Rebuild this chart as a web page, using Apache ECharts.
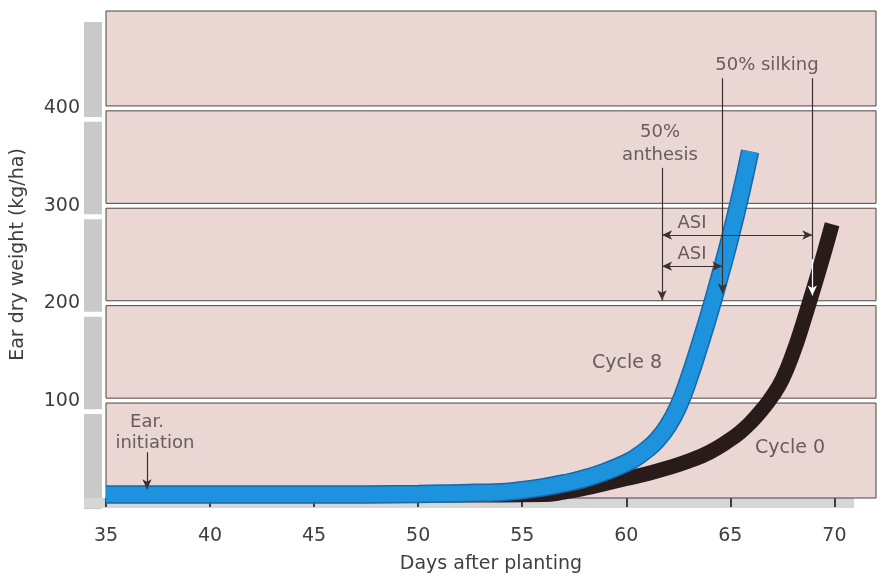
<!DOCTYPE html>
<html><head><meta charset="utf-8">
<script src="https://cdn.jsdelivr.net/npm/echarts@6/dist/echarts.min.js"></script>
<style>html,body{margin:0;padding:0;background:#ffffff}#c{width:885px;height:576px}</style>
</head><body><div id="c"></div>
<script>
// ---- data ----
const xTicks = [35, 40, 45, 50, 55, 60, 65, 70];
const yTicks = [100, 200, 300, 400];
const bandEdges = [0, 100, 200, 300, 400, 500];

const cycle8Days   = [35, 40, 45, 50, 52, 54, 55, 56, 57, 58, 59, 60, 60.5, 61, 61.5, 62, 62.5, 63, 63.5, 64, 64.5, 65, 65.5, 65.95];
const cycle8Weight = [3.5, 3.5, 3.5, 4, 5, 6, 8, 11, 15, 20, 27, 36, 42, 50, 60, 74, 94, 122, 155, 190, 228, 268, 312, 356];

const cycle0Days   = [35, 45, 50, 54, 56, 57, 58, 59, 60, 61, 62, 63, 64, 65, 65.5, 66, 66.5, 67, 67.5, 68, 68.5, 69, 69.5, 69.89];
const cycle0Weight = [3, 3, 3, 3, 3.5, 6, 10, 15, 20, 25, 31, 38, 47, 60, 68, 78, 90, 104, 122, 148, 180, 215, 251, 281];

const noteTexts   = ['Ear.', 'initiation', '50%', 'anthesis', '50% silking', 'ASI', 'ASI', 'Cycle 8', 'Cycle 0'];
const noteDays    = [36.97, 37.35, 61.62, 61.62, 66.76, 63.16, 63.16, 60.04, 67.87];
const noteWeights = [78, 56.5, 375, 352, 444.6, 282, 250.5, 138.6, 51.3];

const earInitiationDay = 36.97;
const earArrowSpan = [47, 9];
const anthesisDay = 61.72;
const anthesisSpan = [339, 203];
const silkingDays = [64.62, 68.94];
const silkingSpan = [431, 210];
const silkingInBand = 245;
const asiWeights = [270, 238];

// ---- chart ----
const FONT = 'DejaVu Sans';
const TXT = '#433d3d';
const chart = echarts.init(document.getElementById('c'), null, {renderer: 'canvas'});

const zip = (a, b) => a.map((v, i) => [v, b[i]]);
const bands = [];
for (let i = 0; i < bandEdges.length - 1; i++) {
  const lo = bandEdges[i] + (i === 0 ? 0 : 2.5);
  const hi = bandEdges[i + 1] - (i === bandEdges.length - 2 ? 0 : 2.5);
  bands.push([{yAxis: lo}, {yAxis: hi}]);
}

const P = (d, w, sym) => ({coord: [d, w], symbol: sym});
const white = {lineStyle: {color: '#ffffff'}};
const arrows = [
  [P(earInitiationDay, earArrowSpan[0], 'none'), P(earInitiationDay, earArrowSpan[1], 'arrow')],
  [P(anthesisDay, anthesisSpan[0], 'none'), P(anthesisDay, anthesisSpan[1], 'arrow')],
  [P(silkingDays[0], silkingSpan[0], 'none'), P(silkingDays[0], silkingSpan[1], 'arrow')],
  [P(silkingDays[1], silkingSpan[0], 'none'), P(silkingDays[1], silkingInBand, 'none')],
  [Object.assign(P(silkingDays[1], silkingInBand, 'none'), white),
   Object.assign(P(silkingDays[1], silkingSpan[1] - 2, 'arrow'), white)],
  [P(anthesisDay, asiWeights[0], 'arrow'), P(silkingDays[1], asiWeights[0], 'arrow')],
  [P(anthesisDay, asiWeights[1], 'arrow'), P(silkingDays[0], asiWeights[1], 'arrow')]
];

const option = {
  animation: false,
  backgroundColor: '#ffffff',
  grid: {left: 106, right: 9, top: 11, bottom: 78, outerBoundsMode: 'none', containLabel: false},
  xAxis: {
    type: 'value', min: 35, max: 72, interval: 5, offset: 13,
    axisLine: {show: false},
    axisTick: {show: true, length: 9, customValues: xTicks, lineStyle: {color: TXT, width: 2}},
    axisLabel: {customValues: xTicks, margin: 16, color: TXT, fontSize: 19, fontFamily: FONT},
    splitLine: {show: false},
    name: 'Days after planting', nameLocation: 'middle', nameGap: 44,
    nameTextStyle: {color: TXT, fontSize: 19, fontFamily: FONT}
  },
  yAxis: {
    type: 'value', min: 0, max: 500,
    axisLine: {show: false}, axisTick: {show: false}, splitLine: {show: false},
    axisLabel: {customValues: yTicks, margin: 26, color: TXT, fontSize: 19, fontFamily: FONT},
    name: 'Ear dry weight (kg/ha)', nameLocation: 'middle', nameGap: 78,
    nameTextStyle: {color: TXT, fontSize: 19, fontFamily: FONT}
  },
  series: [
    {
      name: 'bands', type: 'line', z: 0, data: [[35, 0]], symbol: 'none', silent: true,
      lineStyle: {opacity: 0},
      markArea: {silent: true, data: bands,
        itemStyle: {color: '#ead6d3', borderColor: '#4f4545', borderWidth: 1}}
    },
    {
      name: 'Cycle 0', type: 'line', z: 2, data: zip(cycle0Days, cycle0Weight),
      smooth: 0.5, symbol: 'none', clip: false, silent: true,
      lineStyle: {color: '#2a1b1b', width: 15, cap: 'butt'}
    },
    {
      name: 'Cycle 8 edge', type: 'line', z: 3, data: zip(cycle8Days, cycle8Weight),
      smooth: 0.5, symbol: 'none', clip: false, silent: true,
      lineStyle: {color: '#1668ab', width: 18.5, cap: 'butt'}
    },
    {
      name: 'Cycle 8', type: 'line', z: 4, data: zip(cycle8Days, cycle8Weight),
      smooth: 0.5, symbol: 'none', clip: false, silent: true,
      lineStyle: {color: '#1c93dc', width: 15.5, cap: 'butt'}
    },
    {
      name: 'notes', type: 'scatter', z: 6, silent: true, symbolSize: 1,
      itemStyle: {color: 'rgba(0,0,0,0)'},
      data: noteTexts.map((t, i) => ({name: t, value: [noteDays[i], noteWeights[i]]})),
      label: {show: true, position: 'inside', formatter: '{b}', color: TXT, fontFamily: FONT, fontSize: 18},
      markLine: {
        silent: true, symbol: ['none', 'none'], symbolSize: [7, 10],
        label: {show: false}, emphasis: {disabled: true},
        lineStyle: {color: '#3a3232', width: 1.2, type: 'solid'},
        data: arrows
      }
    }
  ]
};
option.series[4].data.forEach(d => { if (d.name.indexOf('Cycle') === 0) d.label = {fontSize: 19}; });
chart.setOption(option);

// grey offset shadow at the left and bottom of the panel stack
const yPx = v => chart.convertToPixel({yAxisIndex: 0}, v);
const xPx = v => chart.convertToPixel({xAxisIndex: 0}, v);
const gl = xPx(35), gr = xPx(72);
const g = [];
bands.forEach(b => {
  const top = yPx(b[1].yAxis) + 11, bot = yPx(b[0].yAxis) + 11;
  g.push({type: 'rect', z: 0, silent: true, shape: {x: gl - 22, y: top, width: 18, height: bot - top},
          style: {fill: '#c9c9c9'}});
});
g.push({type: 'rect', z: 0, silent: true,
        shape: {x: gl - 22, y: yPx(0), width: gr - gl, height: 10},
        style: {fill: '#d6d6d6'}});
chart.setOption({graphic: g});
</script></body></html>
